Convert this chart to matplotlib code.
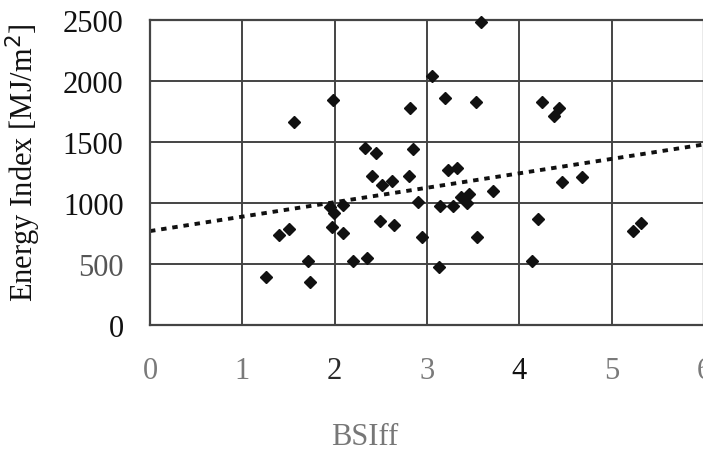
import numpy as np
import matplotlib
matplotlib.use("Agg")
import matplotlib.pyplot as plt

# ── Data ─────────────────────────────────────────────────────────────────
bsiff = [
    3.05, 1.98, 2.82, 1.56, 3.58, 3.20, 3.53, 4.25, 4.43, 4.38,
    2.33, 2.45, 2.85, 2.40, 2.51, 2.62, 2.80, 3.23, 3.33, 4.46,
    4.68, 3.37, 3.46, 3.72, 3.43, 2.90, 3.14, 3.28, 1.95, 2.09,
    1.99, 1.97, 2.09, 1.51, 1.40, 2.49, 2.64, 2.95, 3.54, 4.20,
    5.32, 5.23, 1.71, 2.20, 2.35, 1.26, 1.73, 3.13, 4.14,
]
energy = [
    2044, 1845, 1779, 1662, 2487, 1864, 1831, 1831, 1777, 1711,
    1449, 1410, 1443, 1224, 1150, 1183, 1219, 1271, 1285, 1170,
    1211, 1046, 1074, 1102, 1000, 1006, 979, 979, 965, 984,
    916, 801, 754, 787, 738, 856, 820, 719, 725, 869,
    836, 768, 522, 525, 549, 391, 355, 478, 522,
]
trend_x = [0, 6]
trend_y = [770, 1480]

x_ticks = [0, 1, 2, 3, 4, 5, 6]
x_tick_colors = ["#7a7a7a", "#7a7a7a", "#2a2a2a", "#7a7a7a", "#111111", "#7a7a7a", "#7a7a7a"]
y_ticks = [0, 500, 1000, 1500, 2000, 2500]
y_tick_colors = ["#111111", "#555555", "#111111", "#111111", "#111111", "#111111"]

# ── Figure ────────────────────────────────────────────────────────────────
plt.rcParams["font.family"] = ["Liberation Serif", "DejaVu Serif"]

fig = plt.figure(figsize=(7.03, 4.52), dpi=100)
W, H = 703, 452
left, right, top, bottom = 150, 704, 21, 326
ax = fig.add_axes([left / W, (H - bottom) / H, (right - left) / W, (bottom - top) / H])

ax.set_xlim(0, 6)
ax.set_ylim(0, 2500)
ax.set_xticks(x_ticks)
ax.set_yticks(y_ticks)
ax.grid(True, color="#444444", linewidth=1.4)
ax.set_axisbelow(True)
for sp in ax.spines.values():
    sp.set_color("#444444")
    sp.set_linewidth(1.6)

ax.tick_params(axis="both", length=0)
ax.tick_params(axis="y", pad=19, labelsize=22)
ax.tick_params(axis="x", pad=22, labelsize=22)
for lbl, c in zip(ax.get_xticklabels(), x_tick_colors):
    lbl.set_color(c)
for lbl, c in zip(ax.get_yticklabels(), y_tick_colors):
    lbl.set_color(c)

# trend line
ax.plot(trend_x, trend_y, color="#111111", linewidth=2.8,
        linestyle=(0, (1.4, 1.5)), zorder=2, clip_on=False)

# data points
ax.plot(bsiff, energy, linestyle="none", marker="D", markersize=6.3,
        color="#111111", zorder=3, clip_on=False)

ax.set_ylabel("Energy Index [MJ/m$^2$]", fontsize=22, color="#111111",
              va="center")
ax.yaxis.set_label_coords(-0.228, 0.535)
ax.set_xlabel("BSIff", fontsize=22, color="#777777", va="center")
ax.xaxis.set_label_coords(0.387, -0.365)

fig.savefig("out.png", dpi=100)
